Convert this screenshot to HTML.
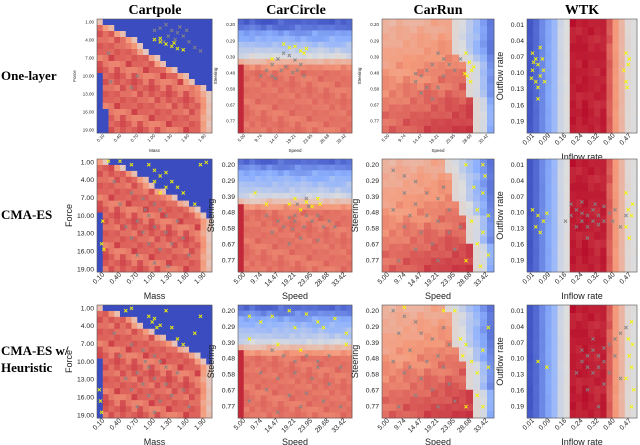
<!DOCTYPE html>
<html><head><meta charset="utf-8"><style>
body{margin:0;background:#fff}
svg{display:block}
.t{font-family:"Liberation Serif",serif;font-weight:bold;font-size:14px}
.r{font-family:"Liberation Serif",serif;font-weight:bold;font-size:13px}
.tk{font-family:"Liberation Sans",sans-serif;fill:#222}
</style></head><body>
<svg id="fig" width="640" height="445" viewBox="0 0 640 445">
<text class="t" x="155" y="14" text-anchor="middle">Cartpole</text>
<text class="t" x="296" y="14" text-anchor="middle">CarCircle</text>
<text class="t" x="438" y="14" text-anchor="middle">CarRun</text>
<text class="t" x="582" y="14" text-anchor="middle">WTK</text>
<text class="r" x="1" y="80">One-layer</text>
<text class="r" x="1" y="219">CMA-ES</text>
<text class="r" x="1" y="355">CMA-ES w/</text>
<text class="r" x="1" y="372">Heuristic</text>
<g id="panels"></g>
</svg>
<script>
// ---- data ----
const colX=[[97,212],[238,352],[382,494],[527,637]];
const rowY=[[19,133],[159,272],[305,418]];
const cartXTicks=["0.10","0.40","0.70","1.00","1.30","1.60","1.90"];
const cartYTicks=["1.00","4.00","7.00","10.00","13.00","16.00","19.00"];
const carXTicks=["5.00","9.74","14.47","19.21","23.95","28.68","33.42"];
const carYTicks=["0.20","0.29","0.39","0.48","0.58","0.67","0.77"];
const wtkXTicks=["0.01","0.09","0.16","0.24","0.32","0.40","0.47"];
const wtkYTicks=["0.01","0.04","0.07","0.10","0.13","0.16","0.19"];
const xTitles=["Mass","Speed","Speed","Inflow rate"];
const yTitles=["Force","Steering","Steering","Outflow rate"];
const noiseTable=[0.1,-0.15,0.05,0.2,-0.05,0.15,-0.2,0,0.1,-0.1,0.25,-0.05,0.05,-0.15,0.2,0,-0.1,0.15,0.05,-0.2,0.1,-0.05,0.3];
const cartBlue=[[1,3,5,7,8,9,11,12,14,16,17,19,20,20,20,20,20,20,20],[2,5,7,9,10,12,14,16,18,19,20,20,20,20,20,20,20,20,20],[1,4,7,8,10,12,14,16,18,19,20,20,20,20,20,20,20,20,20]];
const cartLeft=[[0,0,0,0,0,0,0,0,0,1,1,1,1,1,1,2,2,2,2],[0,0,0,0,0,0,0,0,0,1,1,1,1,1,1,1,1,1,1],[0,0,0,0,0,0,0,0,0,1,1,1,1,1,1,1,1,1,1]];
const circRows=[[-0.9,-0.8,-0.6,-0.5,-0.35,-0.2,-0.05,0.3,0.55,0.62,0.62,0.62,0.62,0.62,0.62,0.62,0.62,0.62,0.62,0.62],[-0.85,-0.7,-0.55,-0.45,-0.35,-0.25,-0.1,0.2,0.5,0.62,0.62,0.62,0.62,0.62,0.62,0.62,0.62,0.62,0.62,0.62],[-0.85,-0.7,-0.55,-0.45,-0.35,-0.25,-0.1,0.25,0.5,0.62,0.62,0.62,0.62,0.62,0.62,0.62,0.62,0.62,0.62,0.62]];
const runB=[[11,11,11,11,11,12,13,13,13,13,13,14,14,14,14,14],[10,10,11,11,11,11,12,12,13,13,13,13,14,14,14,14],[10,11,11,11,11,11,12,12,13,13,13,13,14,14,14,14]];
const wtkCols=[-0.95,-0.85,-0.7,-0.55,-0.4,-0.1,0.0,0.92,0.9,0.92,0.9,0.88,0.9,0.7,0.5,0.3,0.05,0.0];
const grayPts={
"0-0":[.55,.08,.6,.05,.65,.1,.7,.12,.62,.15,.75,.15,.8,.2,.72,.07,.5,.1,.58,.2,.85,.25,.68,.18,.9,.28,.1,.3,.35,.5,.3,.6,.12,.55,.78,.1],
"0-1":[.3,.4,.35,.35,.4,.3,.45,.32,.5,.36,.55,.4,.38,.45,.3,.5,.25,.45,.42,.42,.48,.47,.52,.45,.33,.52,.58,.5,.2,.5],
"0-2":[.5,.3,.55,.35,.45,.4,.4,.45,.35,.5,.3,.55,.6,.4,.55,.5,.4,.6,.35,.65,.5,.6,.45,.7,.65,.45,.7,.35,.3,.48],
"0-3":[],
"1-0":[.3,.3,.4,.35,.5,.4,.45,.5,.55,.45,.6,.5,.35,.55,.25,.6,.5,.6,.4,.65,.6,.65,.7,.55,.3,.7,.45,.75,.55,.8,.65,.75,.2,.4,.35,.85,.75,.7,.8,.85,.5,.92,.62,.95,.15,.2,.42,.45],
"1-1":[.5,.5,.55,.45,.6,.5,.5,.55,.45,.52,.65,.55,.58,.6,.4,.6,.35,.55,.7,.5,.62,.42,.52,.4,.48,.62,.3,.65,.75,.6,.8,.55,.55,.7,.45,.75,.7,.72,.25,.5,.85,.6,.6,.35],
"1-2":[.1,.1,.2,.15,.3,.2,.2,.3,.4,.3,.5,.35,.3,.4,.6,.45,.4,.5,.5,.55,.2,.6,.35,.65,.6,.65,.45,.75,.3,.8,.65,.8,.5,.9,.15,.9,.7,.6,.55,.25,.25,.5,.1,.45],
"1-3":[.4,.5,.45,.45,.5,.48,.55,.5,.6,.45,.65,.5,.7,.42,.75,.48,.5,.55,.55,.6,.6,.55,.45,.6,.65,.58,.8,.45,.7,.55,.4,.4,.5,.38,.85,.6,.55,.7,.35,.55,.62,.4,.78,.55,.9,.5],
"2-0":[.3,.35,.4,.4,.5,.45,.45,.55,.55,.5,.6,.55,.35,.6,.25,.65,.5,.65,.4,.7,.6,.7,.7,.6,.3,.75,.45,.8,.55,.85,.65,.8,.2,.45,.35,.9,.75,.75,.8,.9,.5,.95,.15,.25,.42,.5],
"2-1":[.3,.4,.4,.45,.5,.5,.6,.45,.7,.5,.8,.45,.9,.55,.2,.6,.35,.65,.5,.6,.65,.65,.8,.7,.25,.75,.45,.8,.6,.78,.75,.85,.9,.9,.1,.85,.55,.9,.35,.95,.7,.55],
"2-2":[.1,.05,.2,.1,.3,.15,.15,.25,.35,.25,.45,.3,.25,.4,.5,.45,.4,.5,.55,.55,.2,.6,.35,.65,.6,.7,.45,.75,.3,.8,.65,.85,.5,.9,.15,.9,.1,.5,.55,.2,.25,.55,.6,.35],
"2-3":[.5,.5,.55,.45,.6,.4,.65,.45,.7,.38,.75,.35,.8,.3,.55,.55,.6,.6,.65,.55,.5,.4,.85,.25,.7,.5,.75,.6,.45,.6,.6,.3,.8,.45,.9,.2,.55,.75,.7,.7,.85,.65,.65,.9]};
const yellowPts={
"0-0":[.5,.18,.55,.2,.6,.22,.65,.24,.7,.26,.75,.27,.55,.17,.67,.21],
"0-1":[.4,.22,.45,.25,.55,.28,.58,.3,.6,.26,.5,.24,.3,.35],
"0-2":[.75,.3,.78,.38,.8,.45,.76,.5,.82,.42,.79,.55,.74,.48],
"0-3":[.05,.3,.08,.35,.1,.4,.05,.45,.12,.5,.08,.55,.15,.45,.1,.6,.06,.38,.14,.35,.1,.7,.04,.52,.9,.3,.92,.4,.88,.45,.9,.55,.93,.35,.91,.6,.12,.25,.16,.55],
"1-0":[.1,.02,.2,.02,.3,.05,.45,.05,.5,.1,.55,.15,.6,.12,.65,.2,.7,.25,.75,.3,.9,.05,.95,.03,.6,.25,.55,.3,.5,.2,.85,.4,.05,.55,.04,.75,.06,.8],
"1-1":[.15,.3,.25,.4,.45,.4,.5,.35,.55,.45,.6,.38,.65,.42,.7,.35,.72,.4],
"1-2":[.75,.05,.9,.05,.82,.25,.9,.3,.85,.45,.95,.5,.8,.55,.9,.65,.85,.75,.95,.85,.75,.9,.88,.95,.92,.15],
"1-3":[.05,.45,.1,.5,.15,.55,.08,.6,.12,.65,.18,.48,.9,.3,.92,.45,.95,.5,.9,.6,.93,.7,.96,.4],
"2-0":[.25,.05,.3,.03,.45,.1,.48,.15,.5,.12,.55,.18,.52,.2,.6,.05,.65,.2,.7,.3,.75,.35,.85,.25,.9,.1,.02,.75,.03,.85,.04,.95],
"2-1":[.1,.1,.2,.15,.3,.1,.45,.05,.5,.2,.6,.08,.7,.15,.75,.2,.85,.12,.95,.25,.95,.35,.35,.35,.55,.4,.1,.3],
"2-2":[.2,.02,.55,.05,.65,.05,.7,.3,.75,.35,.72,.45,.8,.5,.85,.6,.9,.4,.95,.55,.85,.8,.9,.9,.75,.9,.95,.2],
"2-3":[.95,.15,.92,.3,.96,.35,.93,.45,.95,.55,.9,.65,.97,.75,.95,.9,.1,.5,.18,.55]};

// ---- helpers ----
const NS="http://www.w3.org/2000/svg";
const root=document.getElementById('panels');
function mk(tag,attrs,parent){const e=document.createElementNS(NS,tag);for(const k in attrs)e.setAttribute(k,attrs[k]);(parent||root).appendChild(e);return e;}
const stops=[[-1,[59,76,192]],[-0.5,[141,176,254]],[0,[221,221,221]],[0.5,[244,154,123]],[1,[180,4,38]]];
function cmap(v){v=Math.max(-1,Math.min(1,v));for(let i=0;i<stops.length-1;i++){const a=stops[i],b=stops[i+1];if(v<=b[0]){const t=(v-a[0])/(b[0]-a[0]);return 'rgb('+a[1].map((c,j)=>Math.round(c+(b[1][j]-c)*t)).join(',')+')';}}return 'rgb(180,4,38)';}
function nz(i,j){return noiseTable[(i*7+j*13)%noiseTable.length];}
function cellVal(r,c,i,j,nr,nc){
  const n=nz(i,j);
  if(c===0){const b=cartBlue[r][i];if(j<cartLeft[r][i])return -1;if(j>=b)return -1;if(j===b-1)return 0.2+n*0.3;if(j===b-2)return 0.45+n*0.3;return 0.66+n*0.45;}
  if(c===1){const base=circRows[r][i];let v=base+(base>0.4?n*0.2:n*0.3);if(j===0&&base>0.4)v=0.88;return v;}
  if(c===2){const b=runB[r][i];if(j>=b){const t=(j-b)/(nc-b);return -0.05-0.9*t+n*0.2;}if(j===b-1)return 0.05;const base=0.3+0.4*(i/nr)+0.2*(j/nc);return base+n*0.25;}
  const cv=wtkCols[j];return cv+(cv>0.6?n*0.15:n*0.05);
}
const grids=[[19,20],[20,20],[16,16],[14,18]];
function panel(r,c){
  const [x0,x1]=colX[c],[y0,y1]=rowY[r];const w=x1-x0,h=y1-y0;const key=r+'-'+c;
  const g=mk('g',{});
  
  
  const [nr,nc]=grids[c];const cw=w/nc,ch=h/nr;
  const hm=mk('g',{},g);
  
  
  for(let i=0;i<nr;i++)for(let j=0;j<nc;j++){
    const rc=mk('rect',{x:(x0+j*cw).toFixed(2),y:(y0+i*ch).toFixed(2),width:(cw+0.4).toFixed(2),height:(ch+0.4).toFixed(2),fill:cmap(cellVal(r,c,i,j,nr,nc))},hm);
    
    
  }
  const fr=mk('rect',{x:x0,y:y0,width:w,height:h,fill:'none',stroke:'#555','stroke-width':0.6},g);
  
  
  function cross(arr,col,name){for(let k=0;k<arr.length;k+=2){const px=x0+arr[k]*w,py=y0+arr[k+1]*h,s=1.6;
    const p=mk('path',{d:`M${px-s} ${py-s}L${px+s} ${py+s}M${px-s} ${py+s}L${px+s} ${py-s}`,stroke:col,'stroke-width':0.9},g);
    
    }}
  cross(grayPts[key],'#858585','gray-point');
  cross(yellowPts[key],'#f5f500','yellow-point');
  const xt=[cartXTicks,carXTicks,carXTicks,wtkXTicks][c],yt=[cartYTicks,carYTicks,carYTicks,wtkYTicks][c];
  const small=(r===0&&c<3);const fs=small?4.5:6.8;const col=small?'#777':'#222';
  for(let k=0;k<yt.length;k++){
    const yy=c===0?y0+h*(k*3+0.5)/19:y0+h*(k+0.35)/7.1;
    const t=mk('text',{x:x0-3,y:yy+fs*0.35,'text-anchor':'end','font-size':fs,fill:col,class:'tk'},g);t.textContent=yt[k];
    
    }
  for(let k=0;k<xt.length;k++){const xx=x0+w*(0.05+k*0.147)+2;
    const t=mk('text',{x:xx,y:y1+3,'text-anchor':'end','font-size':fs,fill:col,class:'tk',transform:`rotate(-45 ${xx} ${y1+3})`},g);t.textContent=xt[k];
    
    }
  const tfs=small?4.5:9;
  const xl=mk('text',{x:x0+w/2,y:y1+(small?19:27),'text-anchor':'middle','font-size':tfs,fill:col,class:'tk'},g);xl.textContent=xTitles[c];
  
  
  const yx=x0-(small?21:(c===0?25:24)),ym=y0+h/2;
  const yl=mk('text',{x:yx,y:ym,'text-anchor':'middle','font-size':tfs,fill:col,class:'tk',transform:`rotate(-90 ${yx} ${ym})`},g);yl.textContent=yTitles[c];
  
  
}
for(let r=0;r<3;r++)for(let c=0;c<4;c++)panel(r,c);
</script>
</body></html>
